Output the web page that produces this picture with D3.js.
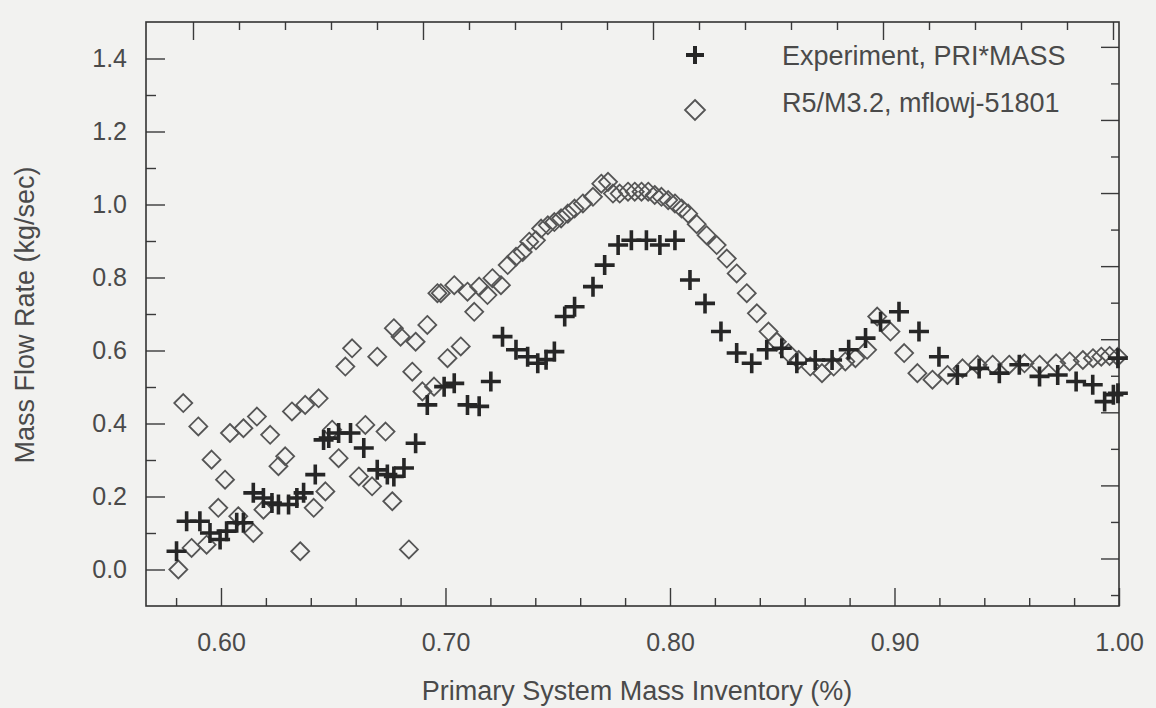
<!DOCTYPE html>
<html>
<head>
<meta charset="utf-8">
<script src="https://cdn.jsdelivr.net/npm/d3@7"></script>
<style>
  html, body { margin: 0; padding: 0; background: #f2f2f0; }
  svg { display: block; }
  text { font-family: "Liberation Sans", Arial, sans-serif; fill: #4a4a4a; }
</style>
</head>
<body>
<div id="chart"></div>
<script>
// Experiment, PRI*MASS  (crosses)
const expX = [0.5802, 0.5847, 0.5906, 0.5951, 0.5996, 0.6025, 0.6070, 0.6100, 0.6144, 0.6189,
  0.6227, 0.6256, 0.6301, 0.6338, 0.6368, 0.6420, 0.6457, 0.6480, 0.6524, 0.6577,
  0.6636, 0.6696, 0.6741, 0.6770, 0.6815, 0.6867, 0.6919, 0.6994, 0.7039, 0.7098,
  0.7150, 0.7202, 0.7254, 0.7314, 0.7366, 0.7411, 0.7448, 0.7485, 0.7531, 0.7575,
  0.7657, 0.7709, 0.7769, 0.7828, 0.7895, 0.7955, 0.8022, 0.8089, 0.8156, 0.8227,
  0.8297, 0.8364, 0.8431, 0.8498, 0.8565, 0.8647, 0.8722, 0.8796, 0.8871, 0.8938,
  0.9020, 0.9109, 0.9198, 0.9280, 0.9377, 0.9467, 0.9556, 0.9646, 0.9727, 0.9809,
  0.9883, 0.9936, 0.9975, 0.9995, 0.9995];
const expY = [0.050, 0.132, 0.132, 0.100, 0.082, 0.105, 0.128, 0.128, 0.210, 0.196,
  0.182, 0.178, 0.178, 0.196, 0.210, 0.260, 0.355, 0.360, 0.374, 0.374,
  0.333, 0.273, 0.260, 0.255, 0.278, 0.346, 0.451, 0.501, 0.510, 0.451,
  0.447, 0.515, 0.638, 0.602, 0.583, 0.565, 0.575, 0.597, 0.693, 0.720,
  0.775, 0.834, 0.889, 0.902, 0.902, 0.889, 0.902, 0.793, 0.729, 0.652,
  0.593, 0.565, 0.602, 0.606, 0.565, 0.574, 0.574, 0.602, 0.634, 0.679,
  0.706, 0.652, 0.583, 0.533, 0.551, 0.538, 0.561, 0.529, 0.533, 0.515,
  0.506, 0.460, 0.479, 0.483, 0.579];

// R5/M3.2, mflowj-51801  (diamonds)
const simX = [0.5810, 0.5832, 0.5869, 0.5899, 0.5936, 0.5958, 0.5988, 0.6018, 0.6040, 0.6077,
  0.6100, 0.6144, 0.6160, 0.6189, 0.6219, 0.6256, 0.6286, 0.6316, 0.6353, 0.6375,
  0.6413, 0.6435, 0.6465, 0.6495, 0.6524, 0.6554, 0.6584, 0.6614, 0.6643, 0.6673,
  0.6696, 0.6733, 0.6763, 0.6770, 0.6800, 0.6837, 0.6852, 0.6867, 0.6897, 0.6919,
  0.6949, 0.6964, 0.6979, 0.7009, 0.7039, 0.7068, 0.7098, 0.7128, 0.7150, 0.7187,
  0.7209, 0.7247, 0.7277, 0.7314, 0.7344, 0.7373, 0.7403, 0.7426, 0.7456, 0.7485,
  0.7515, 0.7545, 0.7575, 0.7612, 0.7657, 0.7694, 0.7724, 0.7746, 0.7776, 0.7813,
  0.7843, 0.7873, 0.7903, 0.7932, 0.7962, 0.7992, 0.8022, 0.8052, 0.8081, 0.8119,
  0.8163, 0.8208, 0.8253, 0.8297, 0.8342, 0.8387, 0.8439, 0.8476, 0.8528, 0.8573,
  0.8625, 0.8677, 0.8729, 0.8781, 0.8826, 0.8878, 0.8923, 0.8982, 0.9043, 0.9102,
  0.9169, 0.9236, 0.9303, 0.9370, 0.9437, 0.9511, 0.9579, 0.9646, 0.9720, 0.9780,
  0.9839, 0.9884, 0.9921, 0.9958, 0.9995];
const simY = [0.000, 0.456, 0.059, 0.392, 0.068, 0.301, 0.169, 0.246, 0.374, 0.146,
  0.387, 0.100, 0.419, 0.164, 0.369, 0.283, 0.310, 0.433, 0.050, 0.451,
  0.169, 0.469, 0.214, 0.383, 0.305, 0.556, 0.606, 0.255, 0.396, 0.228,
  0.583, 0.378, 0.187, 0.661, 0.638, 0.055, 0.542, 0.624, 0.488, 0.670,
  0.501, 0.757, 0.757, 0.579, 0.779, 0.611, 0.761, 0.706, 0.775, 0.752,
  0.798, 0.779, 0.834, 0.857, 0.870, 0.898, 0.902, 0.934, 0.943, 0.952,
  0.962, 0.975, 0.989, 1.003, 1.021, 1.057, 1.062, 1.030, 1.030, 1.035,
  1.035, 1.035, 1.035, 1.026, 1.021, 1.012, 1.003, 0.989, 0.975, 0.946,
  0.916, 0.889, 0.852, 0.811, 0.757, 0.702, 0.652, 0.624, 0.593, 0.574,
  0.556, 0.538, 0.556, 0.570, 0.579, 0.602, 0.693, 0.652, 0.593, 0.538,
  0.520, 0.533, 0.551, 0.561, 0.561, 0.561, 0.565, 0.561, 0.565, 0.570,
  0.574, 0.579, 0.583, 0.585, 0.583];

const xMajor = [0.6, 0.7, 0.8, 0.9, 1.0];
const yMajor = [0.0, 0.2, 0.4, 0.6, 0.8, 1.0, 1.2, 1.4];
const legendLabels = ['Experiment, PRI*MASS', 'R5/M3.2, mflowj-51801'];
const xTitle = 'Primary System Mass Inventory (%)';
const yTitle = 'Mass Flow Rate (kg/sec)';

const W = 1156, H = 708;
const frame = { left: 146, right: 1119, top: 22, bottom: 606 };

const svg = d3.select('#chart').append('svg')
  .attr('width', W).attr('height', H);

svg.append('rect').attr('width', W).attr('height', H).attr('fill', '#f2f2f0');

const x = d3.scaleLinear().domain([0.5666, 1.0]).range([frame.left, frame.right]);
const y = d3.scaleLinear().domain([-0.1, 1.5]).range([frame.bottom, frame.top]);
// unlabeled tick scales on the top and right edges
const xTop = d3.scaleLinear().domain([-0.2043, 4.0261]).range([frame.left, frame.right]);
const yRight = d3.scaleLinear().domain([0.35, 8.34]).range([frame.bottom, frame.top]);

const xMinor = d3.range(0.58, 1.0001, 0.02).filter(v => !xMajor.some(m => Math.abs(m - v) < 1e-6));
const yMinor = d3.range(0.1, 1.41, 0.2);
const topMinor = d3.range(0, 4.01, 0.2).filter(v => Math.abs(v - Math.round(v)) > 1e-6);
const topMajor = [0, 1, 2, 3, 4];
const rightMajor = d3.range(1, 8.01, 1);
const rightMinor = d3.range(0.5, 8.01, 1);

function tickAxis(axis, values, size, transform) {
  const g = svg.append('g')
    .attr('transform', transform)
    .call(axis.tickValues(values).tickSize(size).tickFormat(''));
  g.select('.domain').remove();
  g.selectAll('line').attr('stroke', '#3a3a3a').attr('stroke-width', 1.4);
  return g;
}

// ticks, all pointing inward
tickAxis(d3.axisTop(x), xMajor, 18, `translate(0,${frame.bottom})`);
tickAxis(d3.axisTop(x), xMinor, 8, `translate(0,${frame.bottom})`);
tickAxis(d3.axisRight(y), yMajor, 19, `translate(${frame.left},0)`);
tickAxis(d3.axisRight(y), yMinor, 10, `translate(${frame.left},0)`);
tickAxis(d3.axisBottom(xTop), topMajor, 18, `translate(0,${frame.top})`);
tickAxis(d3.axisBottom(xTop), topMinor, 8, `translate(0,${frame.top})`);
tickAxis(d3.axisLeft(yRight), rightMajor, 18, `translate(${frame.right},0)`);
tickAxis(d3.axisLeft(yRight), rightMinor, 8, `translate(${frame.right},0)`);

// frame
svg.append('rect')
  .attr('x', frame.left).attr('y', frame.top)
  .attr('width', frame.right - frame.left).attr('height', frame.bottom - frame.top)
  .attr('fill', 'none').attr('stroke', '#333').attr('stroke-width', 1.6);

// tick labels
const xl = svg.append('g')
  .attr('transform', `translate(0,${frame.bottom})`)
  .call(d3.axisBottom(x).tickValues(xMajor).tickSize(0).tickPadding(27).tickFormat(d3.format('.2f')));
xl.select('.domain').remove();
xl.selectAll('text').attr('font-size', 25).attr('font-family', null);

const yl = svg.append('g')
  .attr('transform', `translate(${frame.left},0)`)
  .call(d3.axisLeft(y).tickValues(yMajor).tickSize(0).tickPadding(19).tickFormat(d3.format('.1f')));
yl.select('.domain').remove();
yl.selectAll('text').attr('font-size', 25).attr('font-family', null);

// axis titles
svg.append('text')
  .attr('x', 637).attr('y', 700)
  .attr('text-anchor', 'middle')
  .attr('font-size', 27)
  .text(xTitle);

svg.append('text')
  .attr('transform', 'translate(34,315) rotate(-90)')
  .attr('text-anchor', 'middle')
  .attr('font-size', 27)
  .text(yTitle);

// marker shapes
const cross = d3.symbol().type(d3.symbolCross);
function crossPath(s) {
  // plus sign with arm half-length s
  return `M${-s},0L${s},0M0,${-s}L0,${s}`;
}
function diamondPath(s) {
  return `M0,${-s}L${s},0L0,${s}L${-s},0Z`;
}

const content = svg.append('g').attr('class', 'content');

content.selectAll('.sim').data(d3.zip(simX, simY))
  .enter().append('path')
  .attr('class', 'sim')
  .attr('transform', d => `translate(${x(d[0])},${y(d[1])})`)
  .attr('d', diamondPath(9))
  .attr('fill', 'none')
  .attr('stroke', '#555')
  .attr('stroke-width', 1.8);

content.selectAll('.exp').data(d3.zip(expX, expY))
  .enter().append('path')
  .attr('class', 'exp')
  .attr('transform', d => `translate(${x(d[0])},${y(d[1])})`)
  .attr('d', crossPath(10))
  .attr('fill', 'none')
  .attr('stroke', '#262626')
  .attr('stroke-width', 3.6);

// legend
const legend = svg.append('g');
legend.append('path')
  .attr('transform', 'translate(695,55)')
  .attr('d', crossPath(9))
  .attr('stroke', '#262626').attr('stroke-width', 4);
legend.append('path')
  .attr('transform', 'translate(695,110)')
  .attr('d', diamondPath(10))
  .attr('fill', 'none').attr('stroke', '#555').attr('stroke-width', 1.8);
legend.selectAll('.lab').data(legendLabels)
  .enter().append('text')
  .attr('class', 'lab')
  .attr('x', 782)
  .attr('y', (d, i) => i ? 112 : 65)
  .attr('font-size', 27)
  .text(d => d);
</script>
</body>
</html>
